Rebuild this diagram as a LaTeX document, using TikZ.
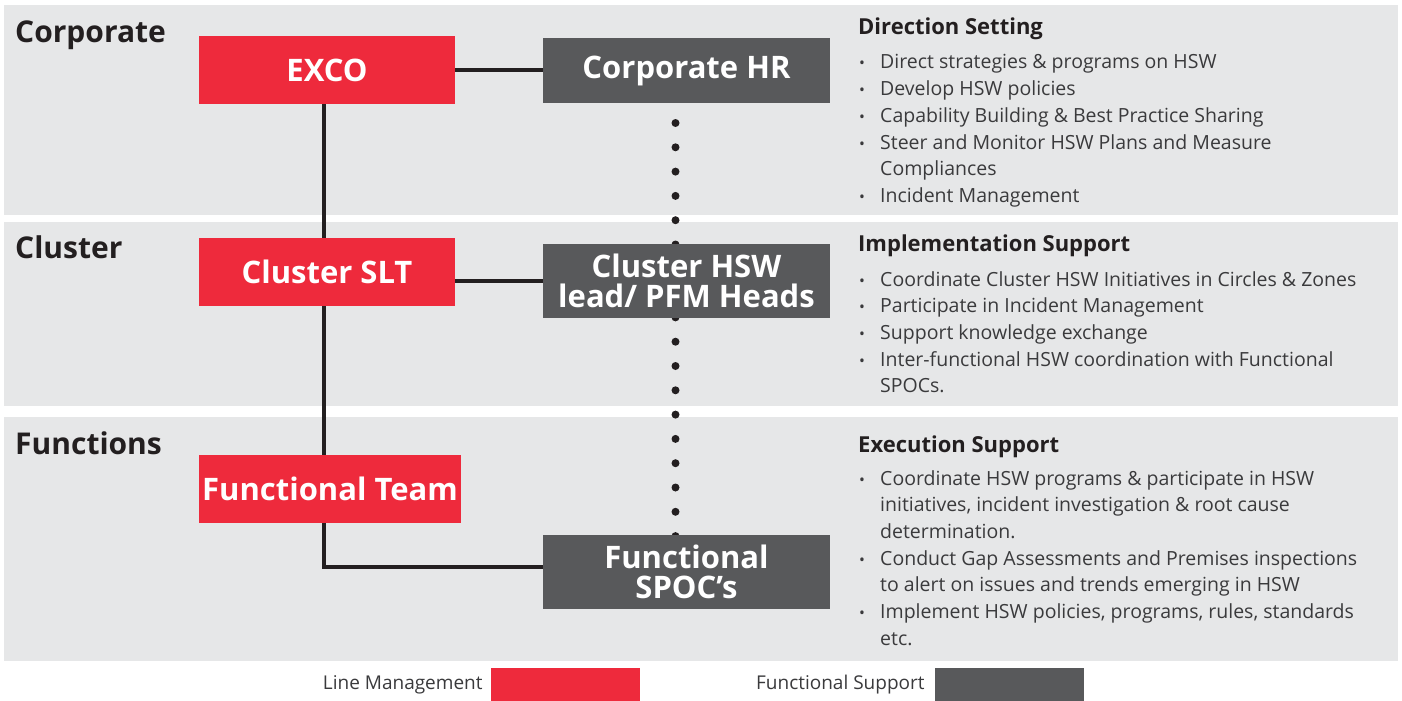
\documentclass[tikz,border=0pt]{standalone}
\usepackage{fontspec}
\setmainfont{Open Sans}
\usetikzlibrary{positioning,backgrounds}
\definecolor{linered}{HTML}{EE2A3C}
\definecolor{supportgray}{HTML}{58595B}
\definecolor{bandgray}{HTML}{E6E7E8}
\definecolor{inkdark}{HTML}{231F20}
\definecolor{bodygray}{HTML}{3A3A3C}
\newcommand{\dutybullet}{\scalebox{.8}{\textbullet}}
\tikzset{%
  every unit/.style={
    rectangle,
    inner sep=0pt,
    text=white,
    align=center,
    font=\fontsize{31}{30}\selectfont\bfseries
  },
  unit line/.style={fill=linered},
  unit support/.style={fill=supportgray},
  band/.style={fill=bandgray, draw=none},
  band label/.style={anchor=base west, inner sep=0pt, text=inkdark,
    font=\fontsize{30}{30}\selectfont\bfseries},
  duty head/.style={anchor=base west, inner sep=0pt, text=inkdark,
    font=\fontsize{22}{26}\selectfont\bfseries},
  duty list/.style={anchor=base west, inner sep=0pt, text=bodygray,
    font=\fontsize{19.5}{26.7}\selectfont},
  management/.style={draw=inkdark, line width=4pt},
  support link/.style={draw=inkdark, line width=8pt, line cap=round,
    dash pattern=on 0pt off 24.3pt, dash phase=20.4pt},
  legend text/.style={text=bodygray, inner sep=0pt,
    font=\fontsize{19}{22}\selectfont},
}
\pgfdeclarelayer{bands}
\pgfsetlayers{bands,background,main}

\begin{document}
\begin{tikzpicture}[x=1pt, y=-1pt]
        \useasboundingbox (0,0) rectangle (1402,701);
        \begin{pgfonlayer}{bands}
          \foreach \t/\b in {5/215, 222/406, 417/661}
            \fill[band] (4,\t) rectangle (1398,\b);
        \end{pgfonlayer}

        \foreach \n/\k/\x/\y/\w/\h/\t in {exco/line/327/70/256/68/EXCO,
            corphr/support/686.5/70.5/287/65/Corporate HR,
            slt/line/327/272/256/68/Cluster SLT,
            hsw/support/686.5/281/287/74/{Cluster HSW\\lead/ PFM Heads},
            team/line/330/489/262/68/Functional Team,
            spoc/support/686.5/572/287/74/{Functional\\SPOC’s}}
          \node [every unit/.try, unit \k/.try, minimum width=\w, minimum height=\h] (\n) at (\x,\y) {\t};

        \begin{pgfonlayer}{background}
          \coordinate (dotrail) at (675.5,0);
          \draw [support link] (corphr.center -| dotrail) -- (spoc.center -| dotrail);
          \coordinate (spine) at (324,567);
          \draw [management] (exco.south -| spine) -- (spine) -- (spine -| spoc.west);
          \draw [management] (exco.east) -- (exco.east -| corphr.west);
          \draw [management] (slt.east |- hsw) -- (hsw.west);
        \end{pgfonlayer}

        \foreach \n/\t/\y in {corplabel/Corporate/43, clusterlabel/Cluster/258, funclabel/Functions/454}
          \node [band label] (\n) at (15,\y) {\t};
        \foreach \n/\t/\y in {dirhead/Direction Setting/35, implhead/Implementation Support/251, exechead/Execution Support/452}
          \node [duty head] (\n) at (858,\y) {\t};

        \node [duty list] (dirlist) at (859,69) {\begin{tabular}[t]{@{}p{21pt}@{}l@{}}
            \dutybullet & Direct strategies \& programs on HSW\\
            \dutybullet & Develop HSW policies\\
            \dutybullet & Capability Building \& Best Practice Sharing\\
            \dutybullet & Steer and Monitor HSW Plans and Measure\\
                        & Compliances\\
            \dutybullet & Incident Management
          \end{tabular}};
        \node [duty list] (impllist) at (859,286) {\begin{tabular}[t]{@{}p{21pt}@{}l@{}}
            \dutybullet & Coordinate Cluster HSW Initiatives in Circles \& Zones\\
            \dutybullet & Participate in Incident Management\\
            \dutybullet & Support knowledge exchange\\
            \dutybullet & Inter-functional HSW coordination with Functional\\
                        & SPOCs.
          \end{tabular}};
        \node [duty list] (execlist) at (859,485) {\begin{tabular}[t]{@{}p{21pt}@{}l@{}}
            \dutybullet & Coordinate HSW programs \& participate in HSW\\
                        & initiatives, incident investigation \& root cause\\
                        & determination.\\
            \dutybullet & Conduct Gap Assessments and Premises inspections\\
                        & to alert on issues and trends emerging in HSW\\
            \dutybullet & Implement HSW policies, programs, rules, standards\\
                        & etc.
          \end{tabular}};

        \node [unit line, minimum width=149, minimum height=33, inner sep=0pt] (linekey) at (565.5,684.5) {};
        \node [unit support, minimum width=149, minimum height=33, inner sep=0pt] (supportkey) at (1009.5,684.5) {};
        \node [legend text, left=8pt of linekey] (linekeytext) {Line Management};
        \node [legend text, left=10pt of supportkey] (supportkeytext) {Functional Support};
        \end{tikzpicture}
\end{document}
